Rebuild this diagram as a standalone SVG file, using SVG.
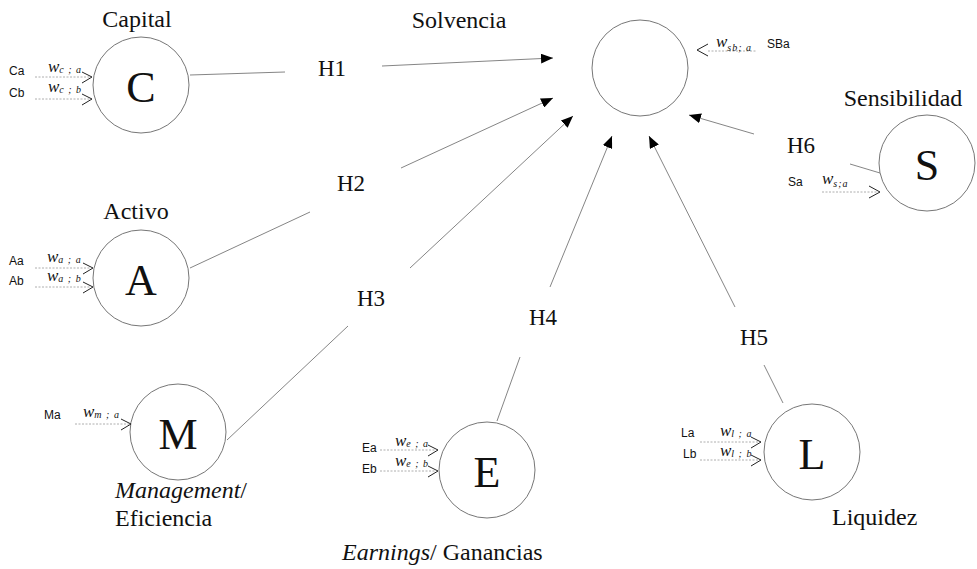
<svg xmlns="http://www.w3.org/2000/svg" width="977" height="569" viewBox="0 0 977 569">
<defs>
<style>
.c{fill:#fff;stroke:#666;stroke-width:0.9}
.big{font-family:"Liberation Serif",serif;font-size:44px;fill:#111;text-anchor:middle}
.lab{font-family:"Liberation Serif",serif;font-size:24px;fill:#111}
.h{font-family:"Liberation Serif",serif;font-size:23px;fill:#111}
.in{font-family:"Liberation Sans",sans-serif;font-size:12px;fill:#111}
.w{font-family:"Liberation Serif",serif;font-size:17px;font-style:italic;fill:#111}
.sub{font-size:10px;letter-spacing:1px}
.dot{stroke:#999;stroke-width:0.8;stroke-dasharray:2,1.5;fill:none}
.chev{stroke:#222;stroke-width:1;fill:none}
.ln{stroke:#666;stroke-width:0.8;fill:none}
</style>
<marker id="ah" viewBox="0 0 12 10" refX="12" refY="5" markerWidth="12" markerHeight="10" markerUnits="userSpaceOnUse" orient="auto">
<path d="M0,0 L12,5 L0,10 Z" fill="#000"/>
</marker>
</defs>
<rect width="977" height="569" fill="#fff"/>

<g id="connectors">
<line class="ln" x1="190" y1="75" x2="285" y2="72"/>
<line class="ln" x1="382" y1="66" x2="553" y2="58" marker-end="url(#ah)"/>
<line class="ln" x1="190" y1="268" x2="310" y2="212"/>
<line class="ln" x1="401" y1="168" x2="553" y2="98" marker-end="url(#ah)"/>
<line class="ln" x1="227" y1="440" x2="348" y2="326"/>
<line class="ln" x1="410" y1="268" x2="573" y2="116" marker-end="url(#ah)"/>
<line class="ln" x1="497" y1="421" x2="520" y2="357"/>
<line class="ln" x1="550" y1="287" x2="612" y2="136" marker-end="url(#ah)"/>
<line class="ln" x1="783" y1="403" x2="764" y2="365"/>
<line class="ln" x1="735" y1="307" x2="649" y2="136" marker-end="url(#ah)"/>
<line class="ln" x1="880" y1="173" x2="850" y2="164"/>
<line class="ln" x1="754" y1="134" x2="689" y2="115" marker-end="url(#ah)"/>
<text class="h" x="318" y="76">H1</text>
<text class="h" x="337" y="191">H2</text>
<text class="h" x="357" y="306">H3</text>
<text class="h" x="529" y="325">H4</text>
<text class="h" x="740" y="345">H5</text>
<text class="h" x="787" y="153">H6</text>
</g>

<g id="solvencia">
<circle class="c" cx="640" cy="68" r="48"/>
<text class="lab" x="459" y="28" text-anchor="middle">Solvencia</text>
<polyline class="chev" points="708,44 697,50 708,56"/>
<line class="dot" x1="708" y1="51" x2="756" y2="51"/>
<text class="w" x="716" y="47">w<tspan class="sub" dy="4">sb; a</tspan></text>
<text class="in" x="767" y="48">SBa</text>
</g>

<g id="capital">
<circle class="c" cx="141" cy="85" r="48"/>
<text class="big" x="141" y="102">C</text>
<text class="lab" x="137" y="27" text-anchor="middle">Capital</text>
<text class="in" x="9" y="75">Ca</text>
<text class="w" x="48" y="72">w<tspan class="sub" dy="1">c ; a</tspan></text>
<line class="dot" x1="35" y1="77" x2="90" y2="77"/>
<polyline class="chev" points="82,72 92,77 82,83"/>
<text class="in" x="9" y="97">Cb</text>
<text class="w" x="48" y="92">w<tspan class="sub" dy="1">c ; b</tspan></text>
<line class="dot" x1="35" y1="99" x2="90" y2="99"/>
<polyline class="chev" points="82,94 92,99 82,105"/>
</g>

<g id="activo">
<circle class="c" cx="141" cy="278" r="48"/>
<text class="big" x="141" y="295">A</text>
<text class="lab" x="136" y="219" text-anchor="middle">Activo</text>
<text class="in" x="9" y="265">Aa</text>
<text class="w" x="47" y="262">w<tspan class="sub" dy="1">a ; a</tspan></text>
<line class="dot" x1="35" y1="268" x2="91" y2="268"/>
<polyline class="chev" points="83,263 93,268 83,274"/>
<text class="in" x="9" y="285">Ab</text>
<text class="w" x="47" y="281">w<tspan class="sub" dy="1">a ; b</tspan></text>
<line class="dot" x1="35" y1="287" x2="91" y2="287"/>
<polyline class="chev" points="83,282 93,287 83,293"/>
</g>

<g id="management">
<circle class="c" cx="178" cy="432" r="48"/>
<text class="big" x="178" y="449">M</text>
<text class="in" x="44" y="419">Ma</text>
<text class="w" x="83" y="417">w<tspan class="sub" dy="1">m ; a</tspan></text>
<line class="dot" x1="75" y1="424" x2="129" y2="424"/>
<polyline class="chev" points="121,419 131,424 121,430"/>
<text class="lab" x="115" y="498"><tspan font-style="italic">Management</tspan>/</text>
<text class="lab" x="115" y="526">Eficiencia</text>
</g>

<g id="earnings">
<circle class="c" cx="487" cy="470" r="48"/>
<text class="big" x="487" y="487">E</text>
<text class="in" x="362" y="452">Ea</text>
<text class="w" x="395" y="446">w<tspan class="sub" dy="1">e ; a</tspan></text>
<line class="dot" x1="380" y1="450" x2="436" y2="450"/>
<polyline class="chev" points="428,445 438,450 428,456"/>
<text class="in" x="362" y="473">Eb</text>
<text class="w" x="395" y="466">w<tspan class="sub" dy="1">e ; b</tspan></text>
<line class="dot" x1="380" y1="471" x2="436" y2="471"/>
<polyline class="chev" points="428,466 438,471 428,477"/>
<text class="lab" x="342" y="560"><tspan font-style="italic">Earnings</tspan>/ Ganancias</text>
</g>

<g id="liquidez">
<circle class="c" cx="812" cy="452" r="48"/>
<text class="big" x="812" y="469">L</text>
<text class="in" x="681" y="437">La</text>
<text class="w" x="720" y="436">w<tspan class="sub" dy="1">l ; a</tspan></text>
<line class="dot" x1="700" y1="442" x2="759" y2="442"/>
<polyline class="chev" points="751,437 761,442 751,448"/>
<text class="in" x="683" y="458">Lb</text>
<text class="w" x="720" y="456">w<tspan class="sub" dy="1">l ; b</tspan></text>
<line class="dot" x1="700" y1="460" x2="759" y2="460"/>
<polyline class="chev" points="751,455 761,460 751,466"/>
<text class="lab" x="832" y="525">Liquidez</text>
</g>

<g id="sensibilidad">
<circle class="c" cx="927" cy="163" r="48"/>
<text class="big" x="927" y="180">S</text>
<text class="lab" x="903" y="106" text-anchor="middle">Sensibilidad</text>
<text class="in" x="788" y="186">Sa</text>
<text class="w" x="822" y="184">w<tspan class="sub" dy="3">s;a</tspan></text>
<line class="dot" x1="822" y1="192" x2="878" y2="192"/>
<polyline class="chev" points="869,186 880,192 869,198"/>
</g>
</svg>
